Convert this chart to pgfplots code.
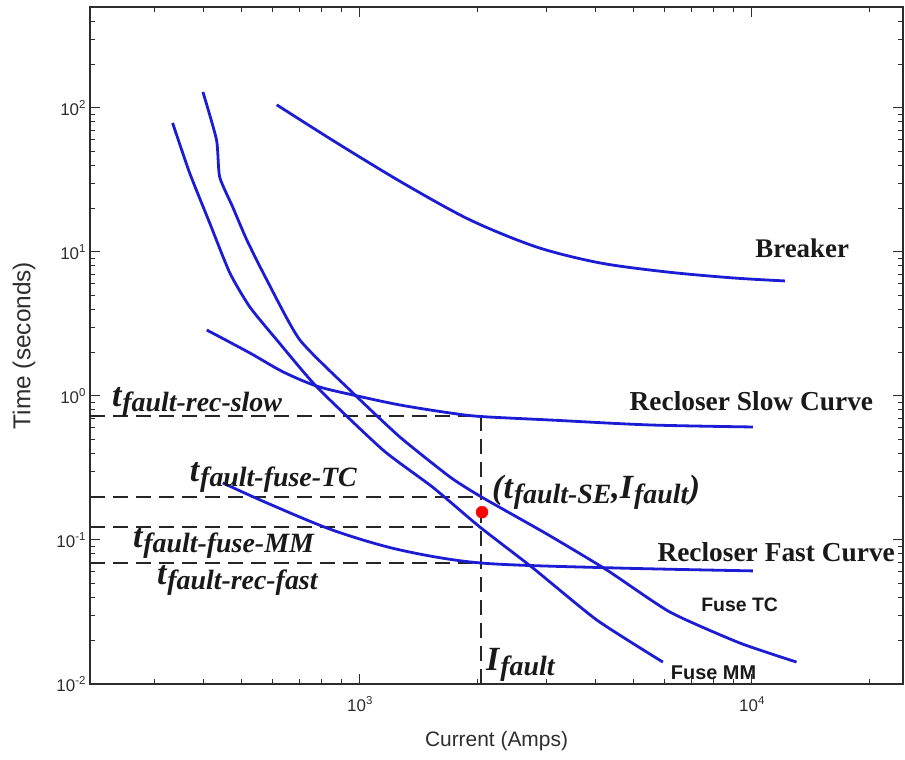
\documentclass[border=0pt]{standalone}
\usepackage{fontspec}
\setmainfont{Liberation Sans}
\newfontfamily\tnr{Liberation Serif}
\usepackage{pgfplots}
\pgfplotsset{compat=1.18}
\definecolor{curveblue}{RGB}{28,28,212}
\definecolor{axgray}{RGB}{45,45,45}
\newcommand{\bt}[1]{{\fontsize{34}{34}\selectfont\textbf{\textit{#1}}}}
\newcommand{\sub}[1]{\raisebox{-5bp}{\fontsize{28}{28}\selectfont\textbf{\textit{#1}}}}
\newcommand{\tpow}[1]{10\raisebox{7bp}{\fontsize{11.5}{11.5}\selectfont #1}}

\pgfplotstableread{
x y
333 78.7
368 35.4
414 15.9
466 7.15
524 4.15
614 2.45
777 1.155
1145 0.422
1536 0.232
2024 0.123
2762 0.064
4024 0.0278
5930 0.0142
}\fusemm

\pgfplotstableread{
x y
398 129
431 60
439 33.2
474 20.5
515 12.1
579 6.4
703 2.45
960 1.05
1265 0.519
1698 0.274
2036 0.2
3000 0.110
4266 0.0619
6180 0.0316
9300 0.0193
13000 0.0142
}\fusetc

\pgfplotstableread{
x y
614 105
874 57.1
1288 30.1
1909 16.7
2829 10.8
4097 8.39
6070 7.26
8950 6.6
12140 6.29
}\breaker

\pgfplotstableread{
x y
407 2.87
524 1.99
637 1.47
777 1.17
960 1.016
1265 0.866
1698 0.762
2036 0.72
3052 0.681
5495 0.629
10060 0.609
}\slow

\pgfplotstableread{
x y
447 0.249
579 0.181
853 0.117
1265 0.0853
2036 0.0692
4420 0.064
10060 0.061
}\fast

\begin{document}
\begin{tikzpicture}
\begin{axis}[
  xmode=log, ymode=log,
  scale only axis, width=813bp, height=677bp,
  xmin=205, xmax=24300, ymin=0.01, ymax=502,
  axis line style={axgray, line width=1.3bp},
  every tick/.style={axgray, line width=1bp},
  tick align=inside,
  major tick length=10bp, minor tick length=5bp,
  xtick={1000,10000},
  xticklabels={\tpow{3},\tpow{4}},
  minor xtick={300,400,500,600,700,800,900,2000,3000,4000,5000,6000,7000,8000,9000,20000},
  ytick={0.01,0.1,1,10,100},
  yticklabels={\tpow{-2},\tpow{-1},\tpow{0},\tpow{1},\tpow{2}},
  minor ytick={0.02,0.03,0.04,0.05,0.06,0.07,0.08,0.09,0.2,0.3,0.4,0.5,0.6,0.7,0.8,0.9,2,3,4,5,6,7,8,9,20,30,40,50,60,70,80,90,200,300,400},
  tick label style={font=\fontsize{17}{17}\selectfont, text=axgray},
  xticklabel style={yshift=-9bp},
  yticklabel style={xshift=-1bp},
  xlabel={Current (Amps)},
  ylabel={Time (seconds)},
  xlabel style={font=\fontsize{21}{21}\selectfont, text=axgray, at={(axis description cs:0.5,-0.084)}, anchor=center},
  ylabel style={font=\fontsize{24.5}{24.5}\selectfont, text=axgray, at={(axis description cs:-0.081,0.5)}, anchor=center},
  clip mode=individual,
]
\coordinate (SW) at (rel axis cs:0,0);
\coordinate (NE) at (rel axis cs:1,1);

% dashed guide lines
\addplot[black!85, line width=2bp, dash pattern=on 15bp off 8bp] coordinates {(205,0.726) (2035,0.726)};
\addplot[black!85, line width=2bp, dash pattern=on 15bp off 8bp] coordinates {(205,0.2) (2035,0.2)};
\addplot[black!85, line width=2bp, dash pattern=on 15bp off 8bp] coordinates {(205,0.123) (2035,0.123)};
\addplot[black!85, line width=2bp, dash pattern=on 15bp off 8bp] coordinates {(205,0.069) (2035,0.069)};
\addplot[black!85, line width=2bp, dash pattern=on 15bp off 8bp] coordinates {(2035,0.726) (2035,0.01)};

% curves
\addplot[curveblue, line width=2.8bp, smooth, tension=0.35] table[x=x,y=y] {\fusemm};
\addplot[curveblue, line width=2.8bp, smooth, tension=0.35] table[x=x,y=y] {\fusetc};
\addplot[curveblue, line width=2.8bp, smooth, tension=0.5] table[x=x,y=y] {\breaker};
\addplot[curveblue, line width=2.8bp, smooth, tension=0.5] table[x=x,y=y] {\slow};
\addplot[curveblue, line width=2.8bp, smooth, tension=0.5] table[x=x,y=y] {\fast};

% fault point
\addplot[only marks, mark=*, mark size=6bp, color=red, fill=red] coordinates {(2050,0.156)};

% labels
\begin{scope}[every node/.style={text=black!90}]
\node[font=\tnr\bfseries\fontsize{27}{27}\selectfont] at (rel axis cs:0.876,0.644) {Breaker};
\node[font=\tnr\bfseries\fontsize{27.5}{27.5}\selectfont] at (rel axis cs:0.8135,0.418) {Recloser Slow Curve};
\node[font=\tnr\bfseries\fontsize{27.5}{27.5}\selectfont] at (rel axis cs:0.844,0.195) {Recloser Fast Curve};
\node[font=\bfseries\fontsize{19.5}{19.5}\selectfont] at (rel axis cs:0.799,0.1167) {Fuse TC};
\node[font=\bfseries\fontsize{20}{20}\selectfont] at (rel axis cs:0.767,0.016) {Fuse MM};
\node[font=\tnr, anchor=west, inner sep=0pt] at (rel axis cs:0.4945,0.2836) {\bt{(t}\sub{fault-SE}\bt{,I}\sub{fault}\bt{)}};
\node[font=\tnr, anchor=west, inner sep=0pt] at (rel axis cs:0.027,0.4165) {\bt{t}\sub{fault-rec-slow}};
\node[font=\tnr, anchor=west, inner sep=0pt] at (rel axis cs:0.1227,0.3058) {\bt{t}\sub{fault-fuse-TC}};
\node[font=\tnr, anchor=west, inner sep=0pt] at (rel axis cs:0.0528,0.208) {\bt{t}\sub{fault-fuse-MM}};
\node[font=\tnr, anchor=west, inner sep=0pt] at (rel axis cs:0.0822,0.1536) {\bt{t}\sub{fault-rec-fast}};
\node[font=\tnr, anchor=west, inner sep=0pt] at (rel axis cs:0.487,0.028) {\bt{I}\sub{fault}};
\end{scope}
\end{axis}
\pgfresetboundingbox
\path[use as bounding box] ([shift={(-90bp,-76bp)}]SW) rectangle ([shift={(2bp,7bp)}]NE);
\end{tikzpicture}
\end{document}
